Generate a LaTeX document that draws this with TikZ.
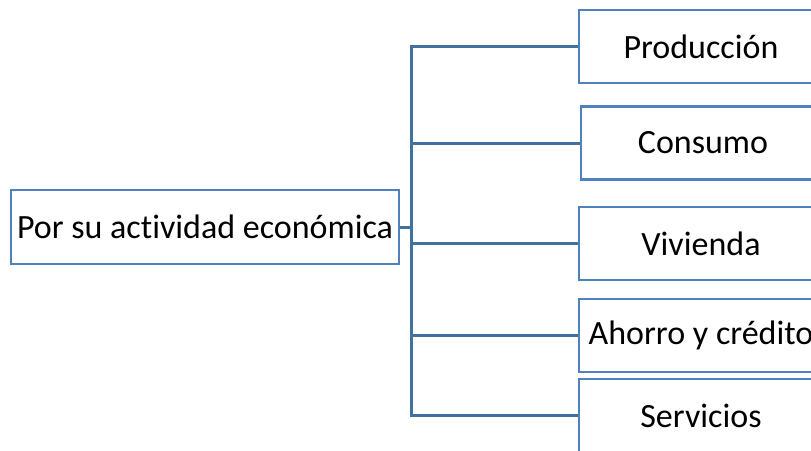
\documentclass[tikz,border=0pt]{standalone}
\usepackage{fontspec}
\setmainfont{Carlito}[Ligatures=NoCommon]
\usepackage{tikz}
\definecolor{boxblue}{RGB}{79,129,189}
\definecolor{linkblue}{RGB}{65,113,156}
\tikzset{
    box/.style={
        rectangle,
        draw=boxblue,
        line width=2.5pt,
        align=center,
        font=\fontsize{34}{40}\selectfont,
        inner sep=0pt
    },
    kind/.style={
        box,
        minimum width=244pt,
        minimum height=73pt
    },
    link/.style={
        draw=linkblue,
        line width=3pt
    }
}
\begin{document}
\begin{tikzpicture}[x=1pt,y=-1pt]
        \useasboundingbox (0,0) rectangle (811,450);
        \clip (0,0) rectangle (811,450);
        \node[box,minimum width=388pt,minimum height=74pt] (actividad) at (205,227) {Por su actividad econ\'omica};
        \node[kind] (produccion) at (701,46.5) {Producci\'on};
        \node[kind] (consumo) at (703,143) {Consumo};
        \node[kind] (vivienda) at (701,243.5) {Vivienda};
        \node[kind] (ahorro) at (701,335.5) {Ahorro y cr\'edito};
        \node[kind] (servicios) at (701,415.5) {Servicios};
        \coordinate (spine) at (411,227);
        \path[link] (actividad.east) -- (spine);
        \path[link] (spine) |- (produccion.west);
        \path[link] (spine) |- (consumo.west);
        \path[link] (spine) |- (vivienda.west);
        \path[link] (spine) |- (ahorro.west);
        \path[link] (spine) |- (servicios.west);
    \end{tikzpicture}
\end{document}
